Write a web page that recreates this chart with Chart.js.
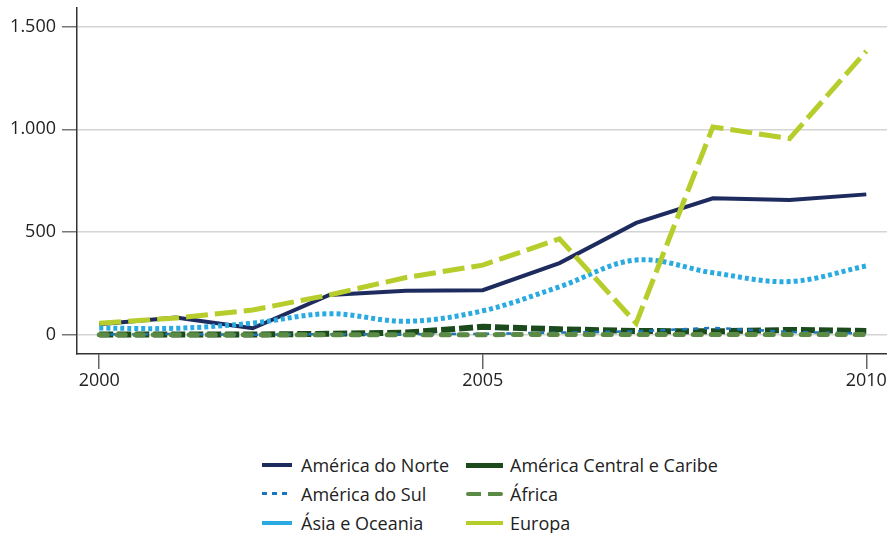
<!DOCTYPE html>
<html>
<head>
<meta charset="utf-8">
<script src="https://cdn.jsdelivr.net/npm/chart.js@4/dist/chart.umd.min.js"></script>
<style>
  body { margin: 0; background: #fff; font-family: "Open Sans", sans-serif; }
  #wrap { position: relative; width: 887px; height: 533px; }
  #grafico { position: absolute; left: 0; top: 0; }
  .leyenda { position: absolute; font-size: 18px; color: #222; line-height: 20px; white-space: nowrap; }
  .muestra { position: absolute; top: 8px; }
</style>
</head>
<body>
<div id="wrap">
  <canvas id="grafico" width="887" height="400"></canvas>
  <div id="leyenda"></div>
</div>
<script>
const anos = [2000, 2001, 2002, 2003, 2004, 2005, 2006, 2007, 2008, 2009, 2010];
const norte   = [53, 85, 33, 195, 215, 218, 350, 545, 665, 657, 684];
const central = [3, 3, 3, 6, 12, 40, 28, 20, 18, 25, 20];
const sul     = [3, 5, 2, 4, 4, 6, 12, 18, 35, 15, 8];
const africa  = [2, 2, 2, 2, 2, 2, 3, 3, 3, 3, 3];
const asia    = [34, 33, 58, 104, 67, 118, 235, 365, 303, 260, 336];
const europa  = [58, 83, 122, 195, 280, 340, 468, 58, 1012, 955, 1380];

const ticksX = [2000, 2005, 2010];
const ticksY = [0, 500, 1000, 1500];

const pts = (arr) => arr.map((v, i) => ({ x: anos[i], y: v }));

const ctx = document.getElementById('grafico');

const grafica = new Chart(ctx, {
  type: 'line',
  data: {
    datasets: [
      { label: 'Europa', data: pts(europa), borderColor: '#b6cd2c', borderWidth: 5, borderDash: [22, 7], order: 0 },
      { label: 'África', data: pts(africa), borderColor: '#5b8a44', borderWidth: 5, borderDash: [8, 10], borderCapStyle: 'round', order: 1 },
      { label: 'América do Sul', data: pts(sul), borderColor: '#1b75bc', borderWidth: 2.5, borderDash: [5, 6], order: 2 },
      { label: 'América Central e Caribe', data: pts(central), borderColor: '#1b4a1c', borderWidth: 6, borderDash: [14, 4], order: 3 },
      { label: 'Ásia e Oceania', data: pts(asia), borderColor: '#29aae1', borderWidth: 5, borderDash: [4, 3], tension: 0.35, order: 4 },
      { label: 'América do Norte', data: pts(norte), borderColor: '#1e2b5e', borderWidth: 4, order: 5 }
    ]
  },
  options: {
    responsive: false,
    animation: false,
    events: [],
    layout: { padding: 0 },
    elements: { point: { radius: 0 }, line: { tension: 0, fill: false } },
    plugins: { legend: { display: false }, tooltip: { enabled: false } },
    scales: {
      x: {
        type: 'linear',
        min: 1999.71,
        max: 2010.27,
        afterBuildTicks: (s) => { s.ticks = ticksX.map(v => ({ value: v })); },
        afterFit: (s) => { s.height = 46; s.paddingLeft = 0; s.paddingRight = 0; },
        border: { color: '#333', width: 1.5 },
        grid: { drawOnChartArea: false, drawTicks: true, tickLength: 15, color: '#666', lineWidth: 1.5 },
        ticks: { color: '#222', font: { family: 'Open Sans', size: 18 }, padding: 1, maxRotation: 0, callback: (v) => String(v) }
      },
      y: {
        min: -92,
        max: 1590,
        afterBuildTicks: (s) => { s.ticks = ticksY.map(v => ({ value: v })); },
        afterFit: (s) => { s.width = 77; s.paddingTop = 8; s.paddingBottom = 0; },
        border: { color: '#333', width: 1.5 },
        grid: { color: '#d4d4d4', lineWidth: 1.5, tickLength: 15, tickColor: '#777' },
        ticks: { color: '#222', font: { family: 'Open Sans', size: 18 }, padding: 6,
                 callback: (v) => v.toLocaleString('pt-BR') }
      }
    }
  }
});

// leyenda en dos columnas
const itens = [
  { texto: 'América do Norte', x: 262, y: 455, w: 30, cor: '#1e2b5e', h: 4, tipo: 'solido', gap: 9 },
  { texto: 'América Central e Caribe', x: 466, y: 455, w: 37, cor: '#1b4a1c', h: 5, tipo: 'solido', gap: 7 },
  { texto: 'América do Sul', x: 262, y: 484, w: 30, cor: '#1b75bc', h: 3, tipo: 'tracos', gap: 9 },
  { texto: 'África', x: 466, y: 484, w: 37, cor: '#5b8a44', h: 4, tipo: 'dois', gap: 7 },
  { texto: 'Ásia e Oceania', x: 262, y: 513, w: 30, cor: '#29aae1', h: 4, tipo: 'solido', gap: 9 },
  { texto: 'Europa', x: 466, y: 513, w: 37, cor: '#b6cd2c', h: 4, tipo: 'solido', gap: 7 }
];

const leyenda = document.getElementById('leyenda');
itens.forEach(it => {
  const div = document.createElement('div');
  div.className = 'leyenda';
  div.style.left = it.x + 'px';
  div.style.top = it.y + 'px';
  const m = document.createElement('span');
  m.className = 'muestra';
  m.style.left = '0px';
  m.style.width = it.w + 'px';
  m.style.height = it.h + 'px';
  if (it.tipo === 'solido') {
    m.style.background = it.cor;
  } else if (it.tipo === 'tracos') {
    m.style.background = `repeating-linear-gradient(90deg, ${it.cor} 0 5px, transparent 5px 10px)`;
  } else {
    m.style.background = `linear-gradient(90deg, ${it.cor} 0 15px, transparent 15px 22px, ${it.cor} 22px 37px)`;
    m.style.borderRadius = '2px';
  }
  div.appendChild(m);
  const t = document.createElement('span');
  t.textContent = it.texto;
  t.style.marginLeft = (it.w + it.gap) + 'px';
  div.appendChild(t);
  leyenda.appendChild(div);
});
</script>
</body>
</html>
